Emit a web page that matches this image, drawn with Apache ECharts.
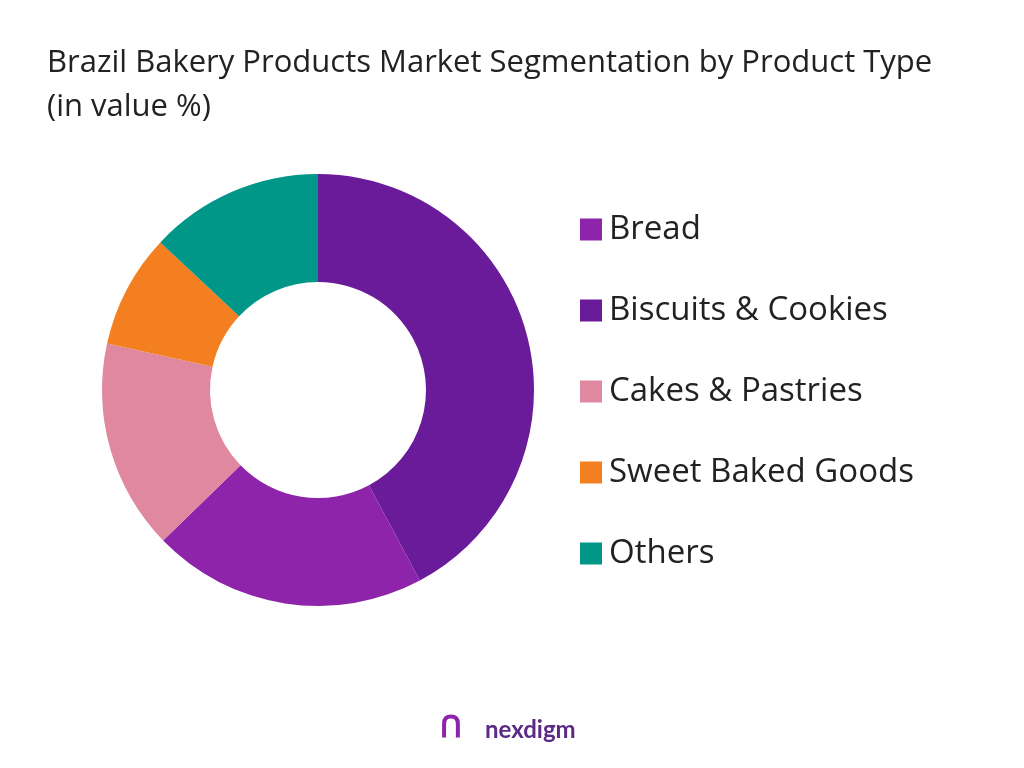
<!DOCTYPE html>
<html><head><meta charset="utf-8">
<script src="https://cdn.jsdelivr.net/npm/echarts@6/dist/echarts.min.js"></script>
<style>html,body{margin:0;padding:0;background:#fff}#c{width:1024px;height:768px}</style>
</head><body><div id="c"></div>
<script>
const categories = ["Biscuits & Cookies","Bread","Cakes & Pastries","Sweet Baked Goods","Others"];
const values = [42.1, 20.5, 15.7, 8.5, 13.0];
const legendOrder = ["Bread","Biscuits & Cookies","Cakes & Pastries","Sweet Baked Goods","Others"];
const colors = {"Bread":"#8E24AA","Biscuits & Cookies":"#6A1B9A","Cakes & Pastries":"#DF88A0","Sweet Baked Goods":"#F47F20","Others":"#009688"};
const chart = echarts.init(document.getElementById('c'));
chart.setOption({
  title:{text:"Brazil Bakery Products Market Segmentation by Product Type\n(in value %)",left:42,top:36,
    textStyle:{fontFamily:"Open Sans",fontWeight:"normal",fontSize:31,color:"#222",lineHeight:44}},
  legend:{orient:"vertical",left:575,top:208,itemWidth:22,itemHeight:22,itemGap:48,icon:"rect",
    data:legendOrder,textStyle:{fontFamily:"Open Sans",fontSize:33,color:"#222",padding:[0,0,0,2]}},
  graphic:[{type:"text",left:485,top:718,style:{text:"nexdigm",font:"bold 24px Lato",fill:"#5B2A86"}},
    {type:"text",left:440,top:712,style:{text:"ᑎ",font:"bold 30px Lato",fill:"#8E24AA"}}],
  series:[{type:"pie",center:[318,390],radius:[108,216],startAngle:90,clockwise:true,
    label:{show:false},labelLine:{show:false},
    data:categories.map((n,i)=>({name:n,value:values[i],itemStyle:{color:colors[n]}}))}]
});
</script></body></html>
